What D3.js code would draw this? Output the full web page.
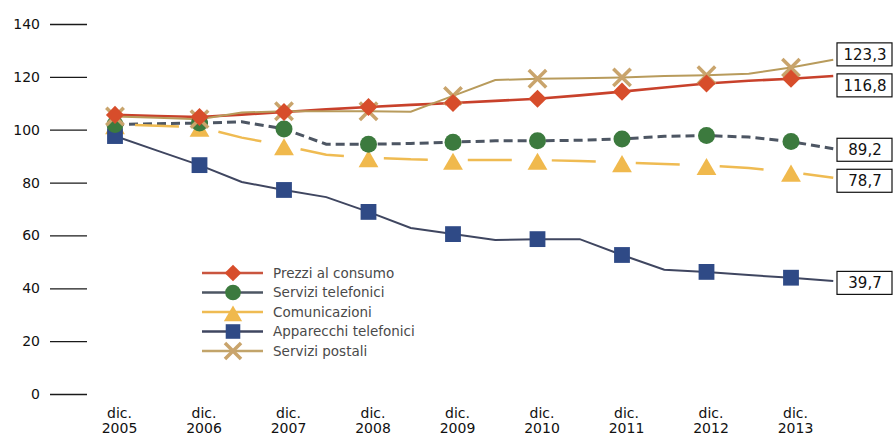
<!DOCTYPE html>
<html>
<head>
<meta charset="utf-8">
<script src="https://cdn.jsdelivr.net/npm/d3@7"></script>
<style>
    body { margin: 0; background: #fff; }
    svg { display: block; font-family: "DejaVu Sans", Verdana, sans-serif; }
</style>
</head>
<body>
<svg id="chart"></svg>
<script>
// periods (half-year steps), marker years and tick values
const periods = [2005, 2005.5, 2006, 2006.5, 2007, 2007.5, 2008, 2008.5, 2009,
                 2009.5, 2010, 2010.5, 2011, 2011.5, 2012, 2012.5, 2013, 2013.5];
const years = [2005, 2006, 2007, 2008, 2009, 2010, 2011, 2012, 2013];
const yTicks = [0, 20, 40, 60, 80, 100, 120, 140];

const seriesNames = ["Prezzi al consumo", "Servizi telefonici", "Comunicazioni",
                     "Apparecchi telefonici", "Servizi postali"];

const prezzi        = [105.6, 105.2, 104.8, 105.7, 106.7, 107.7, 108.6, 109.4, 110.1,
                       110.9, 111.7, 113.0, 114.4, 116.0, 117.5, 118.5, 119.3, 120.3];
const serviziTel    = [102.0, 102.3, 102.5, 103.0, 100.3, 94.5, 94.5, 94.8, 95.3,
                       95.8, 95.8, 96.0, 96.5, 97.5, 97.8, 97.2, 95.5, 92.8];
const comunicazioni = [102.0, 101.5, 101.0, 97.0, 94.0, 90.5, 89.5, 88.8, 88.5,
                       88.5, 88.5, 88.2, 87.6, 87.0, 86.5, 85.5, 84.0, 81.8];
const apparecchi    = [97.6, 92.1, 86.6, 80.2, 77.2, 74.5, 68.9, 62.8, 60.5,
                       58.3, 58.6, 58.6, 52.6, 47.0, 46.2, 45.0, 44.0, 42.8];
const postali       = [105.0, 104.5, 104.0, 106.5, 107.0, 107.0, 107.0, 106.8, 112.8,
                       118.8, 119.3, 119.5, 119.8, 120.3, 120.6, 121.2, 123.5, 126.5];

const endLabels = ["116,8", "89,2", "78,7", "39,7", "123,3"];

class IndexChart {
    constructor(_config, _series) {
        this.config = {
            parentElement: _config.parentElement,
            containerWidth: _config.containerWidth || 893,
            containerHeight: _config.containerHeight || 437
        };
        this.series = _series;
        this.initVis();
    }

    initVis() {
        let vis = this;

        vis.svg = d3.select(vis.config.parentElement)
            .attr('width', vis.config.containerWidth)
            .attr('height', vis.config.containerHeight);

        vis.xScale = d3.scaleLinear()
            .domain([2005, 2013])
            .range([115, 791]);

        vis.yScale = d3.scaleLinear()
            .domain([0, 140])
            .range([394, 24]);

        // y axis: short tick lines, no domain line
        vis.yAxisGroup = vis.svg.append('g')
            .attr('class', 'axis y-axis')
            .attr('transform', 'translate(87,0)')
            .call(d3.axisLeft(vis.yScale).tickValues(yTicks).tickSize(37).tickPadding(10));
        vis.yAxisGroup.select('.domain').remove();
        vis.yAxisGroup.selectAll('line').attr('stroke', '#1a1a1a').attr('stroke-width', 1.3);
        vis.yAxisGroup.selectAll('text')
            .attr('font-size', 14)
            .attr('font-family', '"DejaVu Sans", sans-serif')
            .attr('fill', '#111');

        // x axis: two-line labels
        vis.xAxisGroup = vis.svg.append('g')
            .attr('class', 'axis x-axis')
            .attr('transform', 'translate(4,402)')
            .call(d3.axisBottom(vis.xScale).tickValues(years).tickSize(0).tickFormat(''));
        vis.xAxisGroup.select('.domain').remove();
        let xt = vis.xAxisGroup.selectAll('.tick text')
            .attr('font-size', 14)
            .attr('font-family', '"DejaVu Sans", sans-serif')
            .attr('fill', '#111')
            .attr('y', 0)
            .attr('dy', 0);
        xt.append('tspan').attr('x', 0).attr('y', 16).text('dic.');
        xt.append('tspan').attr('x', 0).attr('y', 31).text(d => d);

        vis.updateVis();
    }

    updateVis() {
        let vis = this;

        let line = d3.line()
            .x(d => vis.xScale(d.p))
            .y(d => vis.yScale(d.v))
            .curve(d3.curveLinear);

        vis.lineData = vis.series.map(s => ({
            ...s,
            points: periods.map((p, i) => ({p: p, v: s.values[i]}))
        }));

        // lines
        vis.svg.append('g').selectAll('path')
            .data(vis.lineData)
            .join('path')
                .attr('fill', 'none')
                .attr('stroke', d => d.lineColor)
                .attr('stroke-width', d => d.lineWidth)
                .attr('stroke-dasharray', d => d.dash)
                .attr('stroke-dashoffset', d => d.dashOffset)
                .attr('d', d => line(d.points));

        // markers on the december points
        let order = [2, 3, 1, 4, 0];
        order.forEach(k => {
            let s = vis.lineData[k];
            vis.svg.append('g').selectAll('g')
                .data(s.points.filter(d => years.includes(d.p)))
                .join('g')
                    .attr('transform', d => `translate(${vis.xScale(d.p)},${vis.yScale(d.v)})`)
                    .each(function() { vis.drawMarker(d3.select(this), s, 1); });
        });

        // end labels in boxes
        let ends = vis.lineData.map((s, i) => ({
            label: endLabels[i],
            y: vis.yScale(s.values[s.values.length - 1])
        })).sort((a, b) => a.y - b.y);
        for (let it = 0; it < 20; it++) {
            for (let i = 1; i < ends.length; i++) {
                let gap = ends[i].y - ends[i - 1].y;
                if (gap < 31) {
                    let push = (31 - gap) / 2;
                    ends[i].y += push;
                    ends[i - 1].y -= push;
                }
            }
        }
        let boxes = vis.svg.append('g').selectAll('g')
            .data(ends)
            .join('g')
                .attr('transform', d => `translate(837,${d.y + 2})`);
        boxes.append('rect')
            .attr('x', 0).attr('y', -11.5)
            .attr('width', 55).attr('height', 23)
            .attr('fill', '#fff')
            .attr('stroke', '#111')
            .attr('stroke-width', 1.2);
        boxes.append('text')
            .attr('x', 28).attr('y', 0)
            .attr('dy', '0.36em')
            .attr('text-anchor', 'middle')
            .attr('font-size', 15)
            .attr('fill', '#111')
            .text(d => d.label);

        vis.renderLegend();
    }

    drawMarker(g, s, scale) {
        if (s.marker === 'diamond') {
            g.append('path')
                .attr('d', d3.symbol(d3.symbolSquare, 165 * scale)())
                .attr('transform', 'rotate(45)')
                .attr('fill', s.markerColor);
        } else if (s.marker === 'circle') {
            g.append('circle').attr('r', 8.5 * Math.sqrt(scale)).attr('fill', s.markerColor);
        } else if (s.marker === 'triangle') {
            g.append('path')
                .attr('d', d3.symbol(d3.symbolTriangle, 170 * scale)())
                .attr('transform', 'translate(0,4)')
                .attr('fill', s.markerColor);
        } else if (s.marker === 'square') {
            g.append('path')
                .attr('d', d3.symbol(d3.symbolSquare, 250 * scale)())
                .attr('fill', s.markerColor);
        } else if (s.marker === 'cross') {
            g.append('path')
                .attr('d', d3.symbol(d3.symbolX, 200 * scale)())
                .attr('fill', 'none')
                .attr('stroke', s.markerColor)
                .attr('stroke-width', 3.5);
        }
    }

    renderLegend() {
        let vis = this;
        let legend = vis.svg.append('g').attr('class', 'legend');
        let rows = legend.selectAll('g')
            .data(vis.lineData)
            .join('g')
                .attr('transform', (d, i) => `translate(0,${273 + i * 19.5})`);
        rows.append('line')
            .attr('x1', 202).attr('x2', 263)
            .attr('stroke', d => d.legendLine)
            .attr('stroke-width', 2.5);
        rows.append('g')
            .attr('transform', 'translate(233,0)')
            .each(function(d) { vis.drawMarker(d3.select(this), d, 0.85); });
        rows.append('text')
            .attr('x', 273).attr('y', 0)
            .attr('dy', '0.36em')
            .attr('font-size', 13.5)
            .attr('fill', '#4a4a4a')
            .text(d => d.name);
    }
}

const series = [
    {name: seriesNames[0], values: prezzi, marker: 'diamond', markerColor: '#d74d2b',
     lineColor: '#c8412b', legendLine: '#c9553f', lineWidth: 2.6, dash: null, dashOffset: 0},
    {name: seriesNames[1], values: serviziTel, marker: 'circle', markerColor: '#3c7a3e',
     lineColor: '#4d5663', legendLine: '#4d5663', lineWidth: 3, dash: '9,5', dashOffset: 0},
    {name: seriesNames[2], values: comunicazioni, marker: 'triangle', markerColor: '#f0b94d',
     lineColor: '#efbb52', legendLine: '#efbb52', lineWidth: 2.5, dash: '44,40', dashOffset: 64},
    {name: seriesNames[3], values: apparecchi, marker: 'square', markerColor: '#2f4a86',
     lineColor: '#3f4660', legendLine: '#3f4660', lineWidth: 2, dash: null, dashOffset: 0},
    {name: seriesNames[4], values: postali, marker: 'cross', markerColor: '#c9a46c',
     lineColor: '#b89b5c', legendLine: '#c2a46a', lineWidth: 2, dash: null, dashOffset: 0}
];

new IndexChart({parentElement: '#chart'}, series);
</script>
</body>
</html>
